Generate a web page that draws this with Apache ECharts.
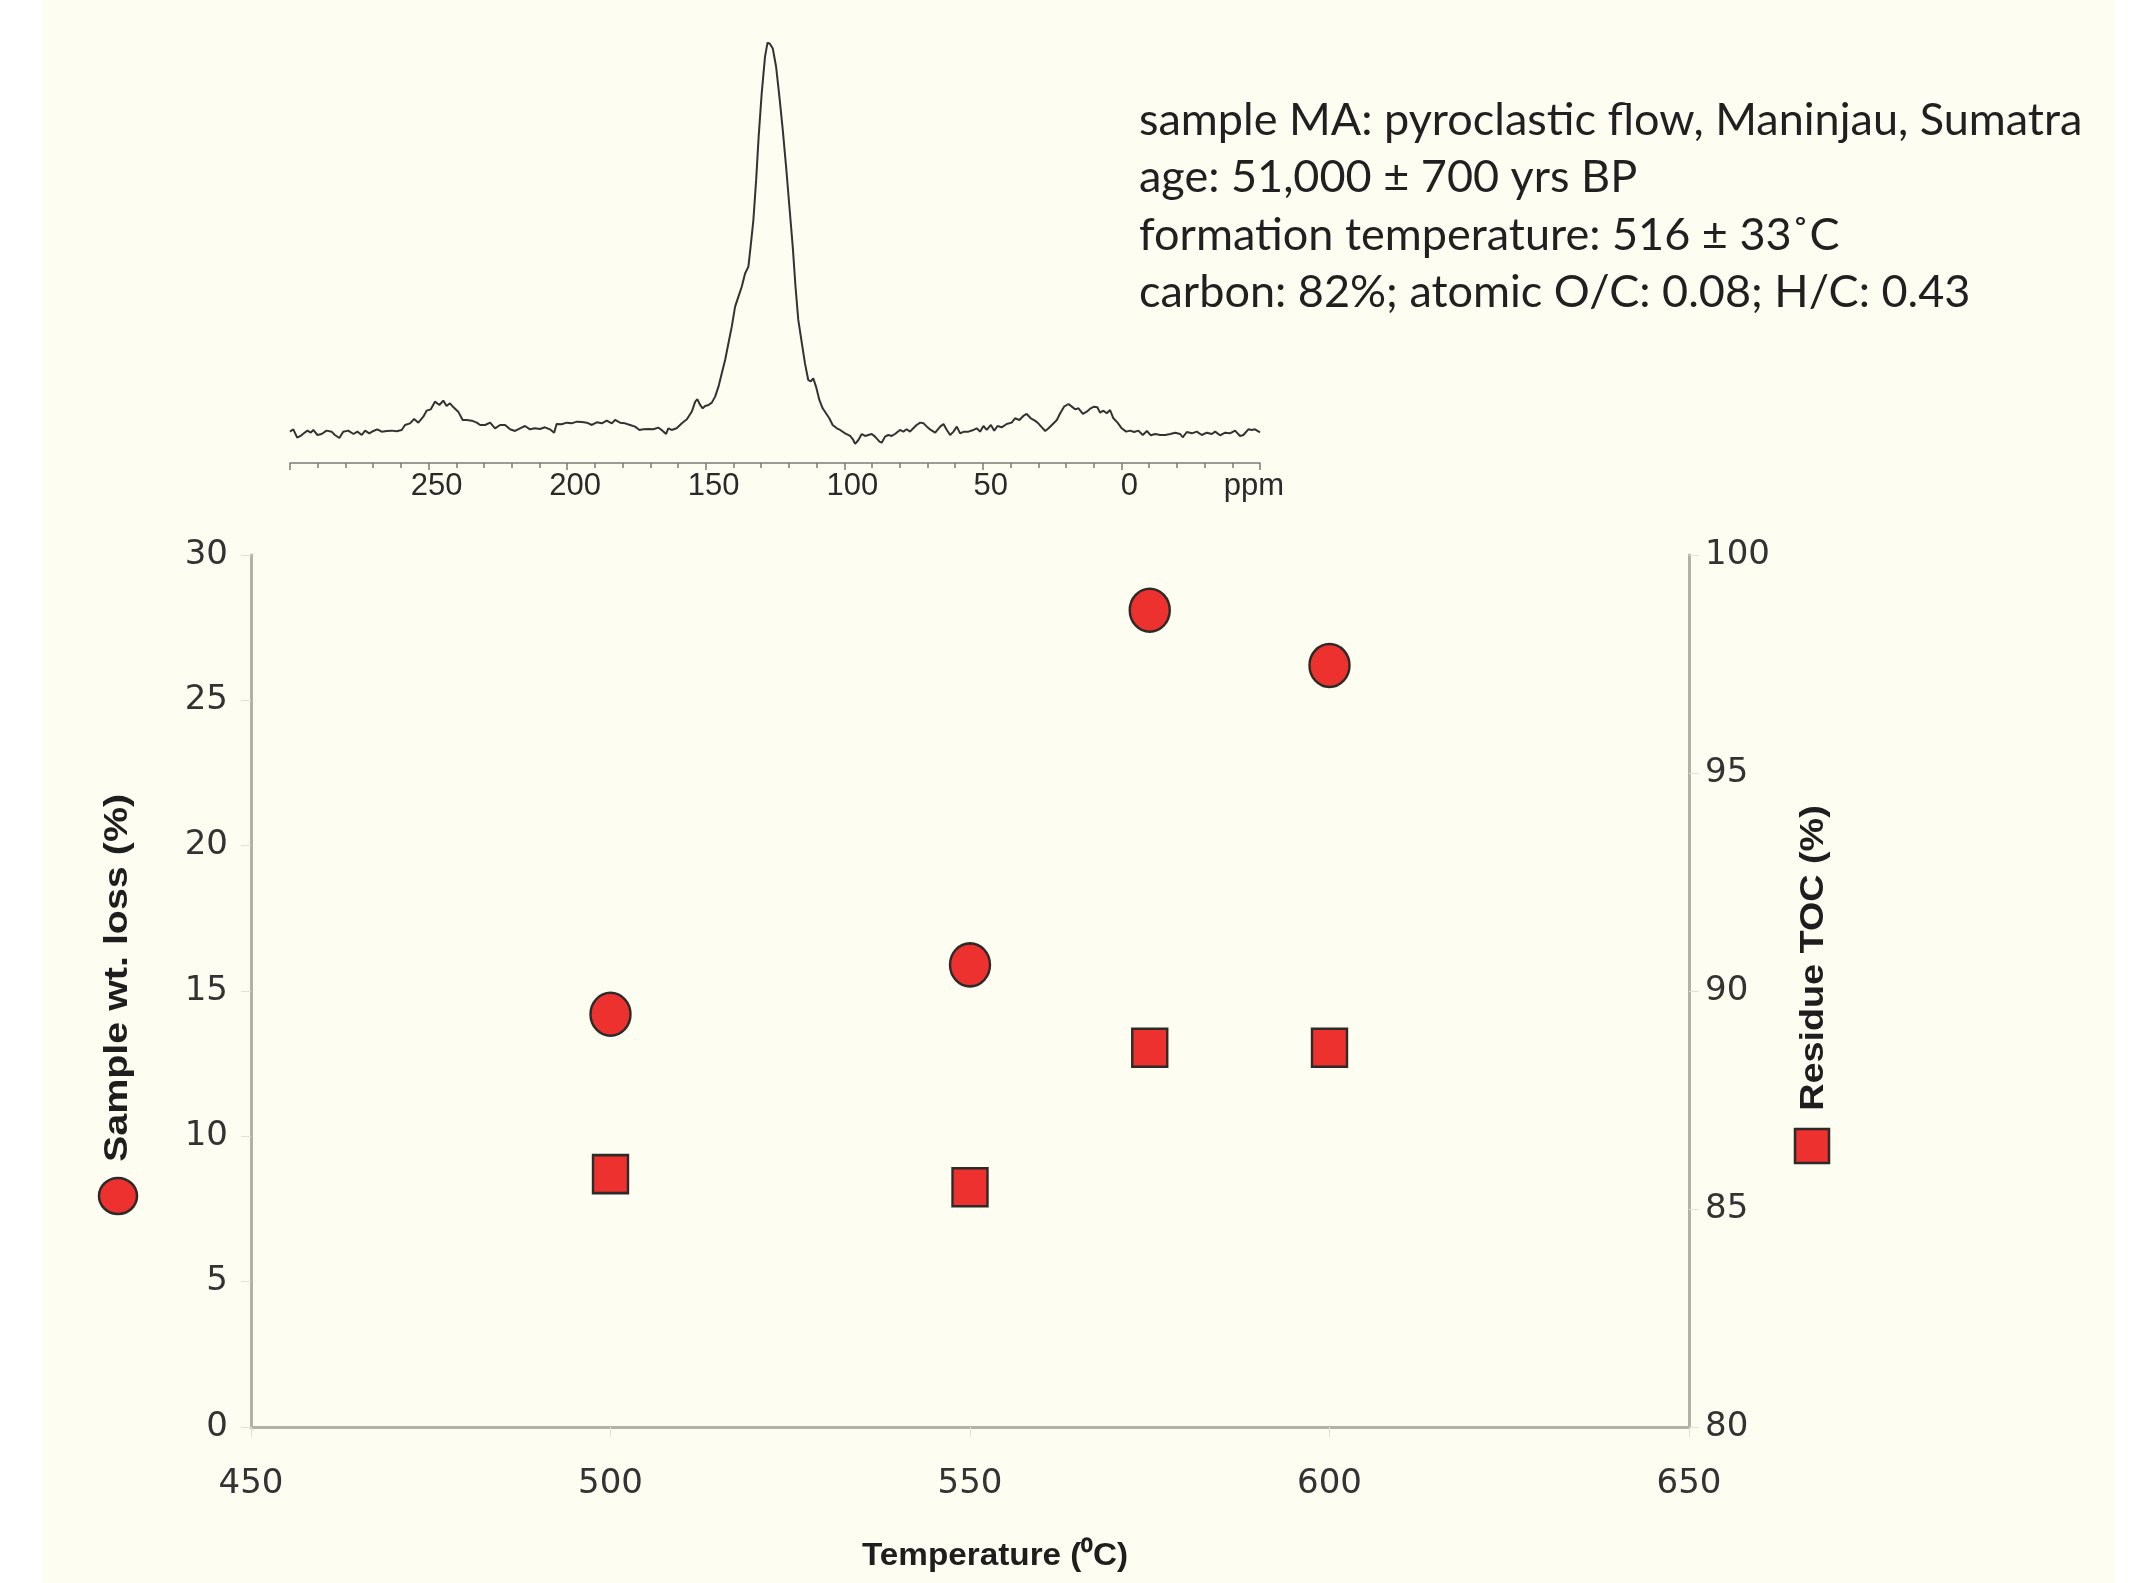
<!DOCTYPE html>
<html><head><meta charset="utf-8">
<script src="https://cdn.jsdelivr.net/npm/echarts@6/dist/echarts.min.js"></script>
<style>html,body{margin:0;padding:0;background:#fff}#c{width:2131px;height:1583px}</style>
</head><body><div id="c"></div>
<script>
// NMR spectrum (chemical shift, ppm) and relative intensity
const ppm = [300.0,298.8,297.4,296.2,295.0,293.7,292.5,291.6,290.1,288.6,286.8,285.0,283.8,282.2,280.8,279.0,277.1,275.7,274.1,272.9,271.4,269.9,268.5,266.9,265.1,263.3,261.5,259.7,258.5,256.7,255.2,253.7,251.9,250.7,249.2,247.7,246.1,244.7,243.5,242.3,241.0,239.3,237.7,236.2,234.4,232.6,231.4,229.6,227.8,226.0,224.2,222.4,220.6,218.8,217.0,215.2,213.4,211.6,209.8,208.0,206.2,204.7,203.8,202.0,200.1,198.4,196.5,194.7,192.9,191.1,189.3,187.5,185.7,183.9,182.7,180.9,179.1,177.3,175.5,173.9,172.5,170.7,168.9,167.1,165.9,164.3,163.5,162.3,160.5,158.6,156.8,155.0,153.8,153.0,152.0,151.1,150.2,149.0,147.8,146.6,145.4,144.2,143.0,141.8,140.6,139.4,138.2,137.0,135.8,134.6,133.8,132.8,131.8,130.9,129.8,128.6,127.7,126.8,125.8,124.6,123.4,122.2,121.0,119.8,118.6,117.6,116.6,115.3,114.2,113.0,112.1,111.2,110.2,109.0,107.8,106.6,105.4,104.2,102.7,101.5,99.7,97.9,96.9,96.1,94.9,93.7,92.5,91.3,90.1,88.9,87.3,86.5,85.3,84.1,82.9,81.7,79.9,78.7,77.5,76.3,75.1,73.9,72.6,71.4,70.2,68.8,67.2,65.4,64.2,63.0,61.8,60.6,59.4,58.2,56.8,55.2,53.4,52.2,51.0,49.8,48.6,47.1,45.9,44.7,43.2,41.4,39.6,38.4,36.8,35.4,34.2,32.7,31.2,30.0,28.7,27.5,26.3,25.1,23.3,22.1,20.7,19.1,17.9,16.7,15.5,13.9,12.5,11.1,9.9,8.7,7.7,6.5,5.3,4.1,2.9,1.4,-0.1,-1.7,-3.1,-4.6,-6.1,-7.7,-9.2,-10.6,-12.2,-14.0,-15.8,-17.6,-19.4,-21.2,-22.1,-23.6,-25.4,-27.2,-29.0,-30.8,-32.6,-33.8,-35.6,-37.4,-39.2,-41.0,-42.8,-44.0,-45.8,-47.0,-48.2,-50.0];
const intensity = [0.34,0.94,-1.2,-0.77,-0.09,0.6,0.08,0.77,-0.52,-0.26,0.6,0.34,-0.52,-1.3,0.34,0.6,-0.26,0.34,-0.52,0.6,-0.09,0.51,0.94,0.34,0.51,0.6,0.42,0.77,2.05,2.47,3.59,2.65,4.18,5.72,6.06,8.03,7.18,8.29,6.92,7.6,6.58,5.47,3.33,3.33,3.16,2.65,2.05,2.05,2.65,1.2,2.05,2.05,0.94,0.51,1.2,1.79,0.94,1.2,1.02,1.45,0.94,0.08,2.3,2.22,2.65,2.47,2.9,2.82,2.65,2.05,2.73,2.47,3.16,2.47,3.33,2.65,2.47,2.05,1.62,0.77,0.94,1.02,0.94,1.36,0.77,-0.26,1.2,0.77,1.2,2.47,3.5,5.5,8.04,8.63,7.18,6.33,6.93,7.18,7.78,9.32,11.88,15.3,18.72,23.0,27.27,32.4,34.96,37.5,40.9,42.65,47.8,54.6,64.9,76.0,87.1,96.5,100.1,99.75,98.6,93.9,86.2,77.7,68.3,58.0,47.8,37.5,29.0,23.0,17.9,13.6,13.2,14.0,11.9,8.47,6.33,5.05,3.76,2.05,1.2,0.77,-0.09,-0.77,-1.62,-2.8,-1.8,-0.26,-0.77,-0.5,-0.26,-0.94,-2.2,-2.48,-0.94,-0.52,-0.77,-0.26,0.77,0.34,0.94,0.34,1.2,2.05,2.65,2.47,1.62,0.77,0.08,1.62,2.3,0.77,-0.52,0.34,1.62,-0.09,0.34,0.34,0.77,1.2,0.34,1.79,0.77,2.05,0.6,1.79,1.45,2.3,2.65,3.76,3.33,4.36,4.87,3.76,3.16,2.47,1.45,0.51,1.2,2.05,3.33,5.04,6.75,7.43,6.75,6.06,6.32,4.87,5.47,6.32,6.75,6.58,5.21,5.72,5.04,5.89,3.76,2.65,1.2,0.34,0.6,0.25,0.6,-0.52,0.51,-0.6,-0.26,-0.52,-0.52,-0.26,0.08,-0.26,-1.1,0.25,-0.09,0.34,-0.52,0.08,-0.26,0.34,-0.6,0.08,-0.09,0.6,-0.77,-0.52,0.94,0.77,0.94,0.17];

// Main chart
const temperature = [500, 550, 575, 600];
const wtLoss = [14.2, 15.9, 28.1, 26.2];
const residueTOC = [85.8, 85.5, 88.7, 88.7];

const infoLines = [
  'sample MA: pyroclastic flow, Maninjau, Sumatra',
  'age: 51,000 \u00B1 700 yrs BP',
  'formation temperature: 516 \u00B1 33\u02DAC',
  'carbon: 82%; atomic O/C: 0.08; H/C: 0.43'
];
const xTitle = 'Temperature (\u2070C)';
const yLeftTitle = 'Sample wt. loss (%)';
const yRightTitle = 'Residue TOC (%)';

const RED = '#ED312E', EDGE = '#2e2a28', CREAM = '#FDFDF1';
const AXIS = '#b3b2a8';
const BOLDFONT = "'Liberation Sans', Arial, sans-serif";
const SPECFONT = "'Liberation Sans', Arial, sans-serif";
const TICKFONT = "'DejaVu Sans', sans-serif";

const chart = echarts.init(document.getElementById('c'), null, {renderer: 'canvas'});

const graphic = [
  {type: 'rect', z: -10, silent: true, shape: {x: 42, y: 0, width: 2073, height: 1583}, style: {fill: CREAM}},
  ...infoLines.map((t, i) => ({
    type: 'text', x: 1139, y: 120 + i * 57.5, z: 10,
    style: {text: t, font: "45px Lato, 'Open Sans', sans-serif", fill: '#231f20', verticalAlign: 'middle', align: 'left'}
  })),
  {type: 'text', x: 118, y: 978, rotation: Math.PI / 2, scaleX: 1.16, z: 10,
    style: {text: yLeftTitle, font: 'bold 34px ' + BOLDFONT, fill: '#1e1e1e', align: 'center', verticalAlign: 'middle'}},
  {type: 'ellipse', z: 10, shape: {cx: 118, cy: 1196, rx: 19, ry: 18}, style: {fill: RED, stroke: EDGE, lineWidth: 2.5}},
  {type: 'text', x: 1814, y: 958, rotation: Math.PI / 2, scaleX: 1.11, z: 10,
    style: {text: yRightTitle, font: 'bold 34px ' + BOLDFONT, fill: '#1e1e1e', align: 'center', verticalAlign: 'middle'}},
  {type: 'rect', z: 10, shape: {x: 1795, y: 1129, width: 34, height: 34}, style: {fill: RED, stroke: EDGE, lineWidth: 2.5}},
  {type: 'text', x: 995, y: 1556, scaleX: 1.04, z: 10,
    style: {text: xTitle, font: 'bold 32px ' + BOLDFONT, fill: '#1e1e1e', align: 'center', verticalAlign: 'middle'}}
];

chart.setOption({
  animation: false,
  backgroundColor: '#ffffff',
  graphic: graphic,
  grid: [
    {left: 290, width: 970, top: 23.5, height: 439.5},
    {left: 251, width: 1438, top: 555, height: 872}
  ],
  xAxis: [
    {gridIndex: 0, type: 'value', inverse: true, min: -50, max: 300, interval: 50,
      axisLine: {onZero: false, lineStyle: {color: '#7a7a7a', width: 1.5}},
      axisTick: {length: 7, lineStyle: {color: '#7a7a7a', width: 1.5}},
      minorTick: {show: true, splitNumber: 5, length: 5, lineStyle: {color: '#7a7a7a', width: 1.5}},
      splitLine: {show: false}, minorSplitLine: {show: false},
      axisLabel: {margin: 8, fontSize: 31, fontFamily: SPECFONT, color: '#2a2a2a', padding: [0, 0, 0, 16],
        rich: {p: {fontSize: 31, fontFamily: SPECFONT, color: '#2a2a2a', padding: [0, 28, 0, 0]}},
        formatter: v => (v === -50 ? '{p|ppm}' : (v === 300 ? '' : String(v)))}
    },
    {gridIndex: 1, type: 'value', min: 450, max: 650, interval: 50,
      axisLine: {onZero: false, lineStyle: {color: AXIS, width: 3}},
      axisTick: {length: 10, lineStyle: {color: '#e2e1d6', width: 1}},
      splitLine: {show: false},
      axisLabel: {margin: 40, fontSize: 34, fontFamily: TICKFONT, color: '#333'}
    }
  ],
  yAxis: [
    {gridIndex: 0, type: 'value', min: -7.7, max: 105, show: false},
    {gridIndex: 1, type: 'value', min: 0, max: 30, interval: 5, position: 'left',
      axisLine: {show: true, onZero: false, lineStyle: {color: AXIS, width: 3}},
      axisTick: {show: true, length: 10, lineStyle: {color: '#e2e1d6', width: 1}},
      splitLine: {show: false},
      axisLabel: {margin: 23, fontSize: 34, fontFamily: TICKFONT, color: '#333'}
    },
    {gridIndex: 1, type: 'value', min: 80, max: 100, interval: 5, position: 'right',
      axisLine: {show: true, onZero: false, lineStyle: {color: AXIS, width: 3}},
      axisTick: {show: true, length: 10, lineStyle: {color: '#e2e1d6', width: 1}},
      splitLine: {show: false},
      axisLabel: {margin: 16, fontSize: 34, fontFamily: TICKFONT, color: '#333'}
    }
  ],
  series: [
    {type: 'line', xAxisIndex: 0, yAxisIndex: 0, showSymbol: false, symbol: 'none',
      data: ppm.map((p, i) => [p, intensity[i]]),
      lineStyle: {color: '#333', width: 2}, clip: false},
    {type: 'scatter', name: yLeftTitle, xAxisIndex: 1, yAxisIndex: 1, symbol: 'circle', symbolSize: [40, 43],
      data: temperature.map((t, i) => [t, wtLoss[i]]),
      itemStyle: {color: RED, borderColor: EDGE, borderWidth: 2.5, opacity: 1}},
    {type: 'scatter', name: yRightTitle, xAxisIndex: 1, yAxisIndex: 2, symbol: 'rect', symbolSize: [35, 38],
      data: temperature.map((t, i) => [t, residueTOC[i]]),
      itemStyle: {color: RED, borderColor: EDGE, borderWidth: 2.5, opacity: 1}}
  ]
});
</script></body></html>
